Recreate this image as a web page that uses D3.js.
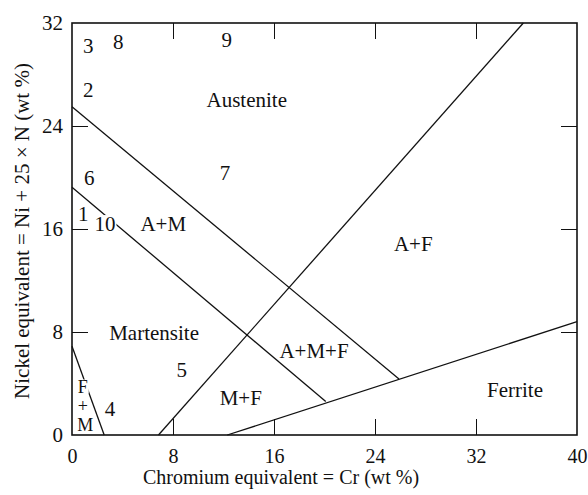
<!DOCTYPE html>
<html>
<head>
<meta charset="utf-8">
<script src="https://cdn.jsdelivr.net/npm/d3@7"></script>
<style>
  html, body { margin: 0; padding: 0; background: #fff; }
  svg { display: block; }
  svg text { font-family: Liberation Serif, DejaVu Serif, Times, serif; }
</style>
</head>
<body>
<svg id="chart" width="588" height="495"></svg>
<script>
// Axis ticks (wt %)
const xTicks = [0, 8, 16, 24, 32, 40];
const yTicks = [0, 8, 16, 24, 32];

// Phase boundaries, [Cr equivalent, Ni equivalent]
const austeniteUpperLine = [[0, 25.5], [25.9, 4.35]];
const martensiteUpperLine = [[0, 19.25], [20.1, 2.6]];
const ferriteLine = [[12.3, 0], [40, 8.8]];
const austeniteFerriteLine = [[6.85, 0], [35.75, 32]];
const ferriteMartensiteLine = [[0, 6.9], [2.55, 0]];

// Region names and steel numbers, anchored at [Cr, Ni]
const regionLabels = ["Austenite", "A+M", "A+F", "Martensite", "A+M+F", "M+F", "Ferrite"];
const regionCr = [13.84, 7.23, 27.03, 6.5, 19.17, 13.37, 35.09];
const regionNi = [25.5, 15.84, 14.33, 7.38, 5.96, 2.33, 2.97];

// Small F + M field in the corner, written as a stack
const cornerLabels = ["F", "+", "M"];
const cornerCr = [0.85, 0.85, 1.05];
const cornerNi = [3.3, 1.75, 0.3];

const steelLabels = ["1", "2", "3", "4", "5", "6", "7", "8", "9", "10"];
const steelCr = [0.9, 1.29, 1.29, 3.01, 8.69, 1.37, 12.12, 3.67, 12.25, 2.61];
const steelNi = [16.66, 26.25, 29.67, 1.48, 4.5, 19.38, 19.77, 29.98, 30.14, 15.84];

const FONT = "Liberation Serif, DejaVu Serif, Times, serif";
const fontSize = 21;
const tickLen = 16;

const svg = d3.select("#chart");
const margin = { top: 23, right: 11, bottom: 60, left: 72 };
const W = +svg.attr("width"), H = +svg.attr("height");
const iw = W - margin.left - margin.right;
const ih = H - margin.top - margin.bottom;

const x = d3.scaleLinear().domain([0, 40]).range([0, iw]);
const y = d3.scaleLinear().domain([0, 32]).range([ih, 0]);

const g = svg.append("g").attr("transform", `translate(${margin.left},${margin.top})`);

// Inward ticks on all four sides
function styleAxis(sel, showLabels) {
  sel.attr("font-family", null).attr("font-size", null);
  sel.select(".domain").remove();
  sel.selectAll(".tick line").attr("stroke", "#111").attr("stroke-width", 1);
  sel.selectAll(".tick text").attr("fill", "#111")
    .style("font-family", FONT).style("font-size", "20px");
  if (!showLabels) sel.selectAll(".tick text").remove();
}

g.append("g").attr("transform", `translate(0,${ih})`)
  .call(d3.axisBottom(x).tickValues(xTicks).tickSize(-tickLen).tickPadding(14))
  .call(s => styleAxis(s, true))
  .call(s => s.selectAll(".tick line").filter(d => d === 0 || d === 40).remove());

g.append("g")
  .call(d3.axisTop(x).tickValues(xTicks.filter(d => d > 0 && d < 40)).tickSize(-tickLen))
  .call(s => styleAxis(s, false));

g.append("g")
  .call(d3.axisLeft(y).tickValues(yTicks).tickSize(-tickLen).tickPadding(9))
  .call(s => styleAxis(s, true))
  .call(s => s.selectAll(".tick text").style("font-size", fontSize + "px"))
  .call(s => s.selectAll(".tick line").filter(d => d === 0 || d === 32).remove());

g.append("g").attr("transform", `translate(${iw},0)`)
  .call(d3.axisRight(y).tickValues(yTicks.filter(d => d > 0 && d < 32)).tickSize(-tickLen))
  .call(s => styleAxis(s, false));

// Frame
g.append("rect")
  .attr("x", 0).attr("y", 0).attr("width", iw).attr("height", ih)
  .attr("fill", "none").attr("stroke", "#111").attr("stroke-width", 1.6);

// Boundary lines
const line = d3.line().x(d => x(d[0])).y(d => y(d[1]));
[austeniteUpperLine, martensiteUpperLine, ferriteLine, austeniteFerriteLine, ferriteMartensiteLine]
  .forEach(pts => {
    g.append("path").attr("d", line(pts))
      .attr("fill", "none").attr("stroke", "#111").attr("stroke-width", 1.3);
  });

// Text labels; some sit on a line, so they get a white backing
function addLabel(text, cr, ni, backed, size) {
  const t = g.append("text")
    .attr("x", x(cr)).attr("y", y(ni))
    .attr("text-anchor", "middle")
    .style("font-family", FONT)
    .style("font-size", (size || fontSize) + "px")
    .attr("fill", "#111")
    .text(text);
  if (backed) {
    const b = t.node().getBBox();
    g.insert("rect", () => t.node())
      .attr("x", b.x - 1).attr("y", b.y + 3)
      .attr("width", b.width + 2).attr("height", b.height - 6)
      .attr("fill", "#fff");
  }
}

regionLabels.forEach((t, i) => addLabel(t, regionCr[i], regionNi[i], false));
cornerLabels.forEach((t, i) => addLabel(t, cornerCr[i], cornerNi[i], t === "F", 18));
steelLabels.forEach((t, i) => addLabel(t, steelCr[i], steelNi[i], t === "10"));

// Axis titles
svg.append("text")
  .attr("x", 281).attr("y", 484)
  .attr("text-anchor", "middle")
  .style("font-family", FONT).style("font-size", "20px").attr("fill", "#111")
  .text("Chromium equivalent = Cr (wt %)");

svg.append("text")
  .attr("transform", `translate(29,${margin.top + ih / 2 + 2}) rotate(-90)`)
  .attr("text-anchor", "middle")
  .style("font-family", FONT).style("font-size", fontSize + "px").attr("fill", "#111")
  .text("Nickel equivalent = Ni + 25 × N (wt %)");
</script>
</body>
</html>
